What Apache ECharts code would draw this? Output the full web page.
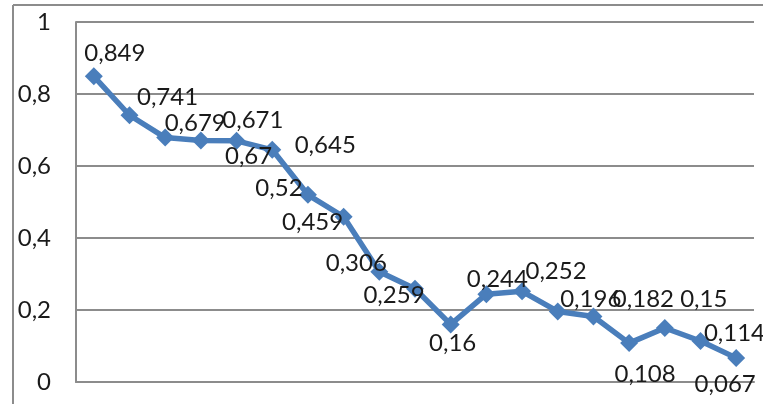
<!DOCTYPE html>
<html><head><meta charset="utf-8">
<script src="https://cdn.jsdelivr.net/npm/echarts@6/dist/echarts.min.js"></script>
<style>html,body{margin:0;padding:0;background:#fff}#c{width:763px;height:404px}</style>
</head><body><div id="c"></div>
<script>
const categories = ['1','2','3','4','5','6','7','8','9','10','11','12','13','14','15','16','17','18','19'];
const values = [0.849, 0.741, 0.679, 0.671, 0.67, 0.645, 0.52, 0.459, 0.306, 0.259, 0.16, 0.244, 0.252, 0.196, 0.182, 0.108, 0.15, 0.114, 0.067];
const yTicks = [0, 0.2, 0.4, 0.6, 0.8, 1];
// label offsets (styling), relative to each point
const labelOffsets = [[21,-23],[38,-18],[30,-14],[52,-20],[12,15],[53,-5],[-29,-7],[-31,6],[-23,-9],[-21,7],[2,19],[11,-15],[34,-20],[33,-12],[50,-17],[16,31],[39,-29],[34,-8],[-11,26]];

const fmt = v => String(v).replace('.', ',');
const chart = echarts.init(document.getElementById('c'), null, {renderer:'canvas'});
chart.setOption({
  animation: false,
  textStyle: {fontFamily: 'Lato'},
  graphic: [
    {type:'line', shape:{x1:13,y1:5,x2:763,y2:5}, style:{stroke:'#8c8c8c', lineWidth:2}},
    {type:'line', shape:{x1:13,y1:5,x2:13,y2:404}, style:{stroke:'#8c8c8c', lineWidth:2}}
  ],
  grid: {left:76, right:9, top:22, bottom:22, containLabel:false},
  xAxis: {
    type:'category', data: categories, boundaryGap:true,
    axisLine:{show:true, lineStyle:{color:'#8c8c8c', width:2}},
    axisTick:{show:false}, axisLabel:{show:false}, splitLine:{show:false}
  },
  yAxis: {
    type:'value', min: yTicks[0], max: yTicks[yTicks.length-1], interval: 0.2,
    axisLine:{show:true, lineStyle:{color:'#8c8c8c', width:2}},
    axisTick:{show:false},
    splitLine:{show:true, lineStyle:{color:'#8c8c8c', width:2}},
    axisLabel:{margin:25, color:'#1a1a1a', fontSize:24, fontFamily:'Lato', formatter: v => fmt(Math.round(v*10)/10)}
  },
  series: [{
    type:'line',
    data: values.map((v,i) => ({value:v, label:{offset: labelOffsets[i]}})),
    symbol:'diamond', symbolSize:18,
    lineStyle:{color:'#4A7EBB', width:5.5},
    itemStyle:{color:'#4A7EBB'},
    label:{show:true, position:'inside', align:'center', verticalAlign:'middle', color:'#1a1a1a', fontSize:24, fontFamily:'Lato', formatter: p => fmt(p.value)}
  }]
});
</script></body></html>
